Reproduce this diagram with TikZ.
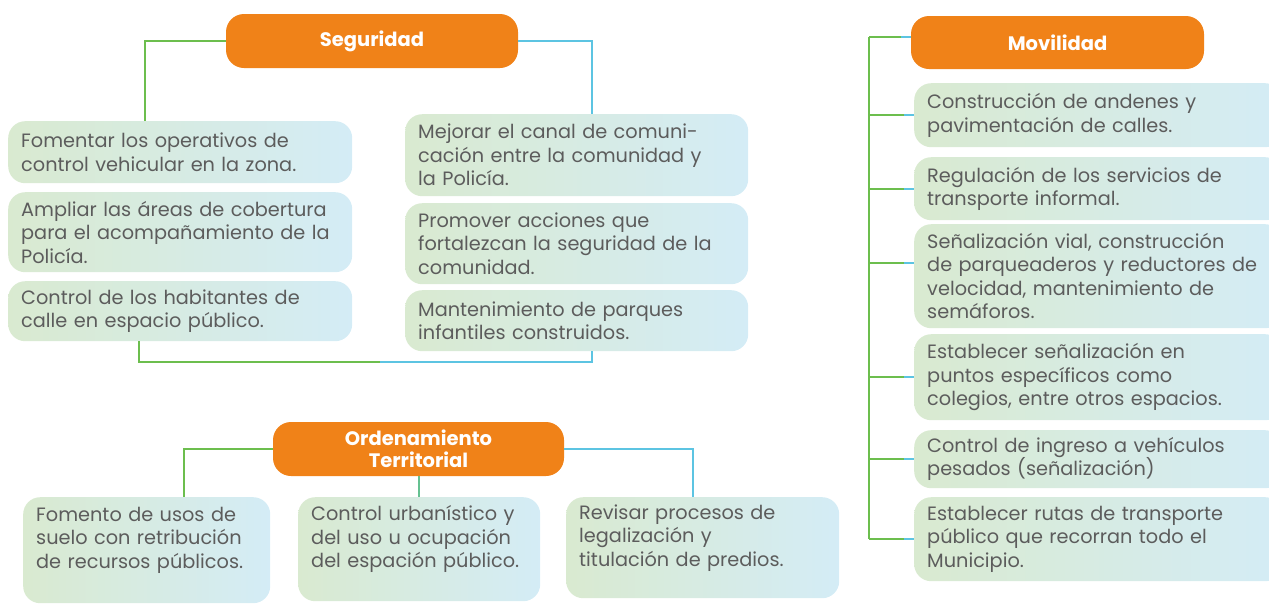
\documentclass[tikz,border=0pt]{standalone}
\usepackage{fontspec}
\setmainfont{Poppins}
\definecolor{naranja}{RGB}{240,130,24}
\definecolor{verdelin}{RGB}{108,190,78}
\definecolor{azullin}{RGB}{92,196,226}
\definecolor{verdecaja}{RGB}{217,234,208}
\definecolor{azulcaja}{RGB}{212,236,246}
\definecolor{texto}{RGB}{92,92,92}
\tikzset{
  titulo/.style={fill=naranja, rounded corners=18pt, text=white,
    font=\fontsize{19.5}{22}\selectfont\bfseries, minimum width=292pt,
    minimum height=54pt, align=center},
  idea/.style 2 args={anchor=north west, left color=verdecaja, right color=azulcaja,
    rounded corners=17pt, text=texto, inner xsep=13pt, text width=#1,
    minimum height=#2, align=left, font=\fontsize{19.3}{23.5}\selectfont},
  lineav/.style={verdelin, line width=2pt},
  lineaa/.style={azullin, line width=2pt},
}
\begin{document}
\begin{tikzpicture}[x=1pt, y=-1pt]
    \useasboundingbox (0,0) rectangle (1269,603);
    % Seguridad
    \node[titulo] (seg) at (372,41) {Seguridad};
    \node[idea={318pt}{62pt}] (b1) at (8,121) {Fomentar los operativos de\\control vehicular en la zona.};
    \node[idea={318pt}{80pt}] (b2) at (8,192) {Ampliar las áreas de cobertura\\para el acompañamiento de la\\Policía.};
    \node[idea={318pt}{60pt}] (b3) at (8,281) {Control de los habitantes de\\calle en espacio público.};
    \node[idea={317pt}{82pt}] (r1) at (405,114) {Mejorar el canal de comuni-\\cación entre la comunidad y\\la Policía.};
    \node[idea={317pt}{81pt}] (r2) at (405,203) {Promover acciones que\\fortalezcan la seguridad de la\\comunidad.};
    \node[idea={317pt}{61pt}] (r3) at (405,290) {Mantenimiento de parques\\infantiles construidos.};
    \draw[lineav] (seg.west) -| ([xshift=137pt]b1.north west);
    \draw[lineaa] (seg.east) -| ([xshift=187pt]r1.north west);
    \coordinate (segbase) at (380,362);
    \draw[lineav] ([xshift=131pt]b3.south west) |- (segbase);
    \draw[lineaa] (segbase) -| ([xshift=187pt]r3.south west);
    % Ordenamiento Territorial
    \node[titulo, minimum width=291pt] (ord) at (418.5,449) {Ordenamiento\\Territorial};
    \node[idea={221pt}{106pt}] (o1) at (23,497) {Fomento de usos de\\suelo con retribución\\de recursos públicos.\par\vspace*{20pt}};
    \node[idea={216pt}{104pt}] (o2) at (298,497) {Control urbanístico y\\del uso u ocupación\\del espación público.\par\vspace*{20pt}};
    \node[idea={247pt}{101pt}] (o3) at (566,497) {Revisar procesos de\\legalización y\\titulación de predios.\par\vspace*{20pt}};
    \draw[lineav] (ord.west) -| ([xshift=161pt]o1.north west);
    \draw[line width=2pt, verdelin!55!azullin] (ord.south) -- (ord.south |- o2.north);
    \draw[lineaa] (ord.east) -| ([xshift=127pt]o3.north west);
    % Movilidad
    \node[titulo, minimum width=293pt, minimum height=53pt] (mov) at (1057.5,42.5) {Movilidad};
    \node[idea={342pt}{64pt}] (m1) at (914,83) {Construcción de andenes y\\pavimentación de calles.};
    \node[idea={342pt}{63pt}] (m2) at (914,157) {Regulación de los servicios de\\transporte informal.};
    \node[idea={342pt}{104pt}] (m3) at (914,224) {Señalización vial, construcción\\de parqueaderos y reductores de\\velocidad, mantenimiento de\\semáforos.};
    \node[idea={342pt}{86pt}] (m4) at (914,334) {Establecer señalización en\\puntos específicos como\\colegios, entre otros espacios.};
    \node[idea={342pt}{58pt}] (m5) at (914,430) {Control de ingreso a vehículos\\pesados (señalización)};
    \node[idea={342pt}{84pt}] (m6) at (914,497) {Establecer rutas de transporte\\público que recorran todo el\\Municipio.};
    \coordinate (tronco) at (869,0);
    \draw[lineav] (tronco |- mov.west) ++(0,-5.5) -- (tronco |- m6.west);
    \foreach \b/\dy in {mov/5.5, m1/0, m2/0, m3/13.5, m4/0, m5/0, m6/0}{
        \path ([yshift=\dy pt]\b.west) coordinate (rama);
        \draw[lineav] (tronco |- rama) -- ([xshift=-10pt]rama);
        \draw[lineaa] ([xshift=-10pt]rama) -- (rama);
    }
\end{tikzpicture}
\end{document}
